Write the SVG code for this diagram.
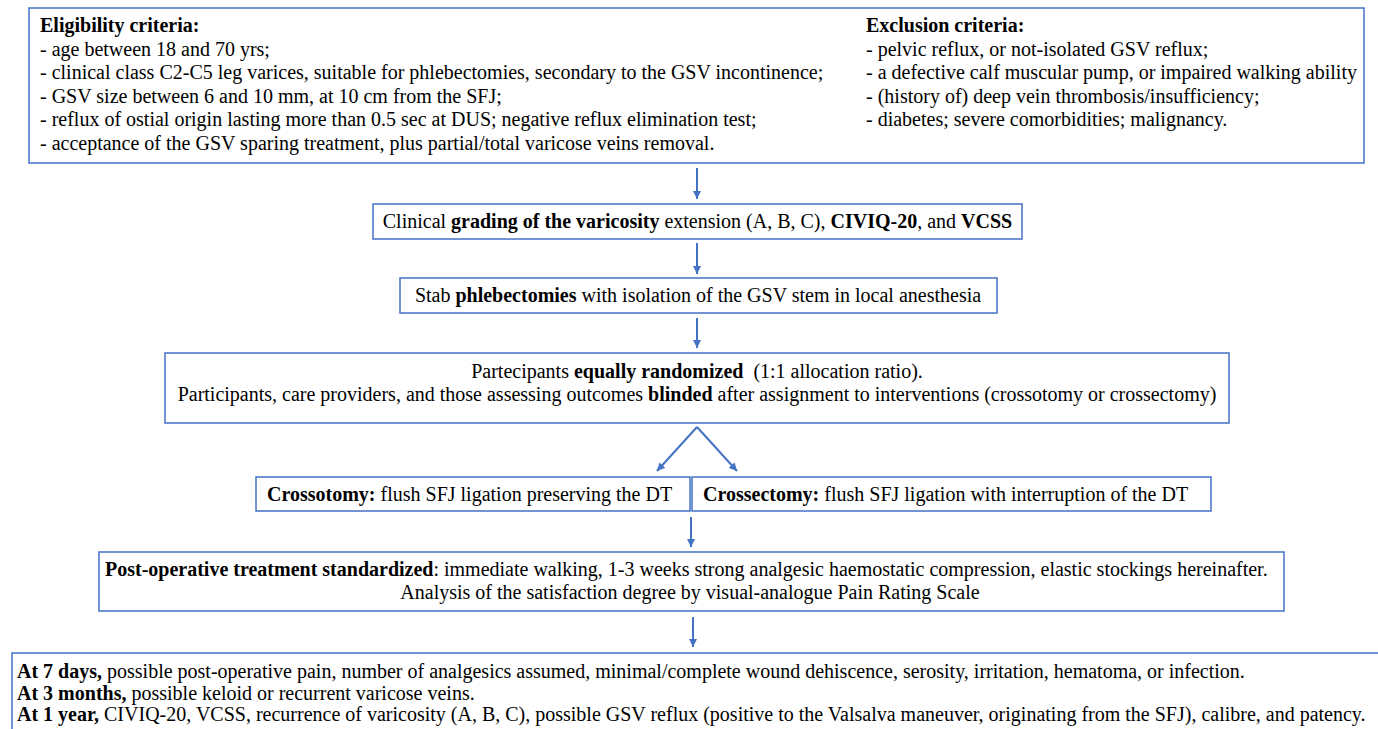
<svg xmlns="http://www.w3.org/2000/svg" width="1378" height="729" viewBox="0 0 1378 729">
<defs>
<style>
.box{fill:#ffffff;stroke:#4472C4;stroke-width:1.5}
.t{font-family:"Liberation Serif","Times New Roman",serif;font-size:20px;fill:#000000}
.c{text-anchor:middle}
.b{font-weight:bold}
.con{stroke:#4472C4;stroke-width:2;fill:none}
</style>
<marker id="ah" viewBox="0 0 10 10" refX="10" refY="5" markerWidth="8" markerHeight="8" markerUnits="userSpaceOnUse" orient="auto">
<path d="M0,0 L10,5 L0,10 z" fill="#4472C4"/>
</marker>
</defs>
<rect x="0" y="0" width="1378" height="729" fill="#ffffff"/>

<g id="criteria">
<rect class="box" x="29" y="8" width="1335" height="155"/>
<text class="t b" x="40" y="32">Eligibility criteria:</text>
<text class="t" x="40" y="55.5">- age between 18 and 70 yrs;</text>
<text class="t" x="40" y="79">- clinical class C2-C5 leg varices, suitable for phlebectomies, secondary to the GSV incontinence;</text>
<text class="t" x="40" y="102.5">- GSV size between 6 and 10 mm, at 10 cm from the SFJ;</text>
<text class="t" x="40" y="126">- reflux of ostial origin lasting more than 0.5 sec at DUS; negative reflux elimination test;</text>
<text class="t" x="40" y="149.5">- acceptance of the GSV sparing treatment, plus partial/total varicose veins removal.</text>
<text class="t b" x="866" y="32">Exclusion criteria:</text>
<text class="t" x="866" y="55.5">- pelvic reflux, or not-isolated GSV reflux;</text>
<text class="t" x="866" y="79">- a defective calf muscular pump, or impaired walking ability</text>
<text class="t" x="866" y="102.5">- (history of) deep vein thrombosis/insufficiency;</text>
<text class="t" x="866" y="126">- diabetes; severe comorbidities; malignancy.</text>
</g>

<g id="grading">
<rect class="box" x="373" y="204" width="649" height="35"/>
<text class="t c" x="697.5" y="228">Clinical <tspan class="b">grading of the varicosity</tspan> extension (A, B, C), <tspan class="b">CIVIQ-20</tspan>, and <tspan class="b">VCSS</tspan></text>
</g>

<g id="phlebectomies">
<rect class="box" x="400" y="278" width="597" height="35"/>
<text class="t c" x="698" y="302">Stab <tspan class="b">phlebectomies</tspan> with isolation of the GSV stem in local anesthesia</text>
</g>

<g id="randomization">
<rect class="box" x="165" y="353" width="1064" height="70"/>
<text class="t c" x="697" y="378" xml:space="preserve">Partecipants <tspan class="b">equally randomized</tspan>  (1:1 allocation ratio).</text>
<text class="t c" x="697" y="401">Participants, care providers, and those assessing outcomes <tspan class="b">blinded</tspan> after assignment to interventions (crossotomy or crossectomy)</text>
</g>

<g id="crossotomy">
<rect class="box" x="256" y="477" width="434" height="34"/>
<text class="t" x="267" y="501"><tspan class="b">Crossotomy:</tspan> flush SFJ ligation preserving the DT</text>
</g>

<g id="crossectomy">
<rect class="box" x="692" y="477" width="519" height="34"/>
<text class="t" x="703" y="501"><tspan class="b">Crossectomy:</tspan> flush SFJ ligation with interruption of the DT</text>
</g>

<g id="postoperative">
<rect class="box" x="99" y="552" width="1185" height="59"/>
<text class="t" x="105" y="576"><tspan class="b">Post-operative treatment standardized</tspan>: immediate walking, 1-3 weeks strong analgesic haemostatic compression, elastic stockings hereinafter.</text>
<text class="t c" x="690" y="599">Analysis of the satisfaction degree by visual-analogue Pain Rating Scale</text>
</g>

<g id="followup">
<rect class="box" x="12" y="653" width="1390" height="100"/>
<text class="t" x="17" y="678"><tspan class="b">At 7 days,</tspan> possible post-operative pain, number of analgesics assumed, minimal/complete wound dehiscence, serosity, irritation, hematoma, or infection.</text>
<text class="t" x="17" y="699.5"><tspan class="b">At 3 months,</tspan> possible keloid or recurrent varicose veins.</text>
<text class="t" x="17" y="721"><tspan class="b">At 1 year,</tspan> CIVIQ-20, VCSS, recurrence of varicosity (A, B, C), possible GSV reflux (positive to the Valsalva maneuver, originating from the SFJ), calibre, and patency.</text>
</g>

<g id="connectors">
<line class="con" x1="697" y1="168" x2="697" y2="199" marker-end="url(#ah)"/>
<line class="con" x1="697" y1="243" x2="697" y2="274" marker-end="url(#ah)"/>
<line class="con" x1="697" y1="318" x2="697" y2="348" marker-end="url(#ah)"/>
<line class="con" x1="697" y1="427" x2="657" y2="471" marker-end="url(#ah)"/>
<line class="con" x1="697" y1="427" x2="737" y2="471" marker-end="url(#ah)"/>
<line class="con" x1="691" y1="517" x2="691" y2="547" marker-end="url(#ah)"/>
<line class="con" x1="693" y1="617" x2="693" y2="647" marker-end="url(#ah)"/>
</g>
</svg>
